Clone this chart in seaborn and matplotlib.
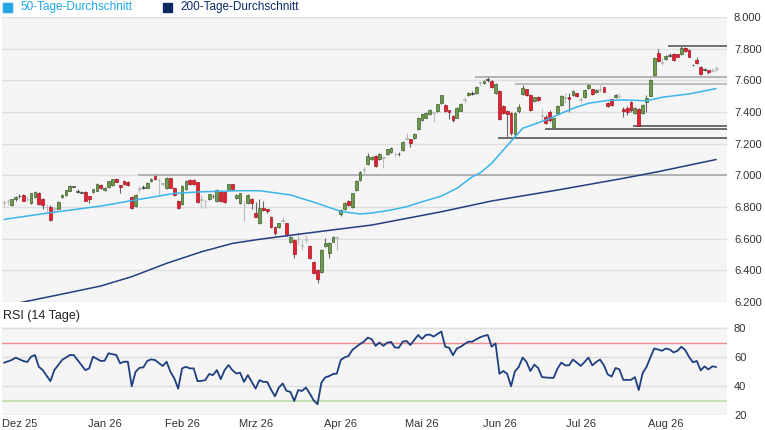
import matplotlib
matplotlib.use("Agg")
import matplotlib.pyplot as plt
from matplotlib.patches import Rectangle
import seaborn as sns
import numpy as np

sns.set_style("white")
plt.rcParams['font.family'] = ['Liberation Sans', 'DejaVu Sans']

# Kerzen (Index = Handelstag, 24.11.2025 bis 20.08.2026)
opens = [6830, 6838, 6812, 6853, 6869, 6873, 6850, 6827, 6861, 6886,
         6848, 6800, 6802, 6790, 6789, 6861, 6873, 6903, 6930, 6900,
         6893, 6895, 6869, 6895, 6903, 6941, 6907, 6924, 6940, 6975,
         6937, 6966, 6958, 6865, 6808, 6915, 6925, 6922, 6964, 6998,
         6972, 6950, 6918, 6981, 6922, 6838, 6817, 6913, 6972, 6970,
         6955, 6850, 6840, 6850, 6872, 6838, 6897, 6893, 6913, 6943,
         6855, 6823, 6815, 6827, 6848, 6764, 6697, 6791, 6785, 6739,
         6675, 6671, 6718, 6697, 6581, 6591, 6600, 6560, 6596, 6553,
         6454, 6402, 6391, 6555, 6511, 6581, 6605, 6756, 6785, 6838,
         6802, 6907, 6970, 7036, 7071, 7102, 7122, 7101, 7118, 7135,
         7147, 7135, 7134, 7160, 7230, 7227, 7234, 7290, 7349, 7364,
         7385, 7395, 7408, 7455, 7446, 7412, 7375, 7364, 7408, 7478,
         7507, 7518, 7518, 7585, 7581, 7605, 7598, 7518, 7535, 7438,
         7408, 7396, 7261, 7408, 7514, 7543, 7507, 7471, 7497, 7382,
         7366, 7402, 7303, 7391, 7444, 7490, 7497, 7507, 7518, 7480,
         7492, 7549, 7543, 7525, 7540, 7556, 7455, 7480, 7492, 7500,
         7419, 7427, 7465, 7391, 7419, 7391, 7465, 7503, 7634, 7771,
         7710, 7735, 7755, 7764, 7764, 7764, 7806, 7792, 7697, 7728,
         7686, 7668, 7663, 7660, 7675]
highs = [6845, 6850, 6852, 6870, 6882, 6880, 6870, 6890, 6902, 6895,
         6855, 6822, 6810, 6800, 6835, 6880, 6910, 6936, 6935, 6912,
         6903, 6900, 6872, 6915, 6950, 6945, 6925, 6966, 6980, 6982,
         6940, 6970, 6962, 6870, 6880, 6935, 6940, 6955, 6982, 7003,
         6985, 6960, 6990, 6986, 6928, 6842, 6940, 6970, 6978, 6976,
         6960, 6876, 6845, 6885, 6880, 6912, 6903, 6898, 6948, 6948,
         6880, 6890, 6840, 6880, 6855, 6830, 6850, 6840, 6790, 6745,
         6680, 6702, 6740, 6702, 6618, 6598, 6644, 6591, 6623, 6558,
         6460, 6408, 6533, 6602, 6580, 6614, 6614, 6790, 6832, 6845,
         6890, 6970, 7025, 7050, 7143, 7125, 7128, 7140, 7125, 7168,
         7180, 7150, 7150, 7218, 7269, 7232, 7265, 7368, 7390, 7400,
         7418, 7408, 7452, 7510, 7450, 7415, 7380, 7430, 7455, 7497,
         7525, 7530, 7565, 7598, 7600, 7618, 7602, 7582, 7540, 7445,
         7412, 7400, 7400, 7450, 7570, 7548, 7512, 7497, 7500, 7425,
         7380, 7410, 7365, 7442, 7505, 7518, 7518, 7540, 7522, 7497,
         7543, 7576, 7548, 7545, 7570, 7560, 7462, 7485, 7512, 7520,
         7430, 7440, 7470, 7432, 7425, 7450, 7510, 7610, 7750, 7795,
         7740, 7760, 7770, 7770, 7768, 7818, 7812, 7795, 7705, 7745,
         7690, 7680, 7668, 7680, 7690]
lows = [6800, 6810, 6808, 6840, 6858, 6835, 6840, 6820, 6855, 6815,
        6790, 6765, 6712, 6770, 6785, 6855, 6870, 6900, 6926, 6886,
        6886, 6836, 6823, 6890, 6900, 6915, 6903, 6920, 6935, 6955,
        6886, 6940, 6932, 6785, 6800, 6897, 6915, 6918, 6960, 6972,
        6876, 6930, 6912, 6918, 6870, 6790, 6812, 6908, 6938, 6940,
        6828, 6791, 6791, 6845, 6855, 6833, 6833, 6828, 6908, 6905,
        6850, 6818, 6712, 6820, 6790, 6735, 6690, 6775, 6765, 6665,
        6625, 6665, 6700, 6618, 6575, 6475, 6560, 6528, 6570, 6470,
        6375, 6317, 6385, 6549, 6475, 6576, 6528, 6745, 6780, 6805,
        6795, 6900, 6965, 7010, 7065, 7095, 7055, 7095, 7045, 7130,
        7142, 7118, 7125, 7155, 7223, 7180, 7230, 7285, 7345, 7360,
        7380, 7340, 7400, 7450, 7400, 7354, 7340, 7360, 7405, 7460,
        7500, 7510, 7515, 7565, 7575, 7590, 7550, 7512, 7350, 7385,
        7233, 7255, 7255, 7395, 7510, 7500, 7405, 7465, 7470, 7350,
        7325, 7340, 7292, 7385, 7440, 7455, 7402, 7500, 7495, 7455,
        7488, 7545, 7510, 7520, 7525, 7525, 7430, 7440, 7488, 7485,
        7370, 7380, 7400, 7385, 7310, 7385, 7400, 7500, 7630, 7715,
        7700, 7730, 7750, 7725, 7745, 7760, 7780, 7745, 7692, 7705,
        7635, 7660, 7640, 7650, 7660]
closes = [6835, 6842, 6848, 6861, 6870, 6840, 6855, 6886, 6897, 6819,
          6812, 6804, 6718, 6795, 6831, 6875, 6907, 6932, 6932, 6898,
          6896, 6840, 6848, 6911, 6945, 6920, 6920, 6962, 6975, 6960,
          6928, 6946, 6938, 6791, 6876, 6918, 6928, 6949, 6977, 6977,
          6970, 6948, 6981, 6922, 6876, 6796, 6935, 6964, 6943, 6947,
          6833, 6848, 6838, 6880, 6870, 6907, 6838, 6833, 6943, 6913,
          6876, 6886, 6812, 6875, 6827, 6739, 6791, 6780, 6772, 6671,
          6633, 6697, 6716, 6623, 6612, 6503, 6598, 6558, 6594, 6475,
          6381, 6343, 6528, 6575, 6574, 6608, 6610, 6781, 6827, 6812,
          6886, 6966, 7019, 7038, 7122, 7115, 7059, 7135, 7114, 7164,
          7175, 7136, 7135, 7212, 7235, 7202, 7259, 7364, 7385, 7396,
          7412, 7398, 7448, 7505, 7408, 7402, 7349, 7427, 7448, 7480,
          7522, 7520, 7560, 7587, 7596, 7607, 7556, 7577, 7354, 7391,
          7387, 7265, 7396, 7429, 7549, 7507, 7412, 7492, 7476, 7378,
          7332, 7349, 7360, 7438, 7501, 7494, 7480, 7535, 7501, 7481,
          7539, 7570, 7514, 7540, 7545, 7528, 7438, 7444, 7507, 7505,
          7406, 7398, 7412, 7427, 7313, 7444, 7490, 7602, 7743, 7722,
          7715, 7756, 7758, 7728, 7749, 7802, 7785, 7749, 7699, 7710,
          7638, 7670, 7655, 7665, 7677]

# gleitende Durchschnitte (Index, Wert)
ma50_idx = [0, 12, 25, 33, 44, 51, 61, 66, 74, 81, 87, 92, 95, 100, 104,
            108, 113, 117, 121, 123, 126, 129, 134, 140, 143, 147, 151, 156,
            160, 166, 170, 177, 184]
ma50_val = [6722, 6764, 6806, 6840, 6886, 6896, 6903, 6903, 6876, 6823, 6772,
            6756, 6762, 6781, 6802, 6833, 6869, 6918, 6991, 7015, 7076, 7160,
            7297, 7349, 7381, 7423, 7455, 7473, 7476, 7471, 7493, 7514, 7548]
ma200_idx = [4, 16, 25, 33, 42, 51, 59, 66, 78, 95, 113, 126, 143, 160, 169,
             184]
ma200_val = [6195, 6255, 6301, 6360, 6444, 6517, 6570, 6596, 6634, 6686, 6770,
             6838, 6907, 6981, 7023, 7100]

# Unterstützungen / Widerstände
level_val = [7817, 7620, 7575, 7311, 7292, 7238, 7000]
level_start = [171.6, 121.7, 132.0, 162.5, 139.8, 127.6, 34.6]
level_color = ['#5a5a5a', '#a8a8a8', '#b4b4b4', '#555555', '#555555', '#555555', '#a8a8a8']

# RSI (14 Tage)
rsi_idx = [0, 2, 3, 5, 6, 7, 8, 9, 10, 12, 13, 15, 17, 18, 19, 21, 22, 23, 25,
           26, 27, 29, 30, 31, 32, 33, 34, 35, 36, 37, 38, 39, 41, 42, 43, 44,
           45, 46, 47, 48, 49, 50, 51, 52, 53, 54, 55, 56, 57, 58, 59, 60, 61,
           62, 63, 64, 65, 66, 67, 68, 69, 70, 71, 72, 73, 74, 75, 76, 77, 78,
           79, 80, 81, 82, 83, 84, 85, 86, 87, 88, 89, 90, 91, 92, 93, 94, 95,
           96, 97, 98, 99, 100, 101, 102, 103, 104, 105, 107, 108, 109, 110,
           111, 112, 113, 114, 115, 116, 117, 118, 119, 120, 121, 122, 123,
           124, 125, 126, 127, 128, 129, 130, 131, 132, 133, 134, 135, 136,
           137, 138, 139, 141, 142, 143, 144, 145, 146, 147, 148, 149, 150,
           151, 152, 153, 154, 155, 156, 157, 158, 159, 160, 161, 162, 163,
           164, 165, 166, 167, 168, 169, 170, 171, 172, 173, 174, 175, 176,
           177, 178, 179, 180, 181, 182, 183, 184]
rsi_val = [56.2, 58.1, 59.7, 57.4, 56.7, 60.4, 61.5, 53.4, 51.1, 43.5, 51.1,
           58.1, 61.5, 61.5, 58.1, 51.1, 52.3, 60.4, 57.4, 57.6, 62.7, 61.5,
           55.8, 56.9, 56.9, 40.0, 50.0, 52.7, 53.0, 57.4, 58.5, 58.1, 53.9,
           56.9, 50.0, 45.4, 38.4, 52.3, 53.4, 52.3, 52.3, 43.5, 43.7, 44.2,
           48.4, 47.7, 51.1, 44.9, 51.1, 54.6, 51.1, 48.8, 49.3, 43.0, 47.7,
           43.0, 38.4, 44.2, 43.0, 43.0, 37.7, 33.1, 39.1, 41.9, 36.8, 36.1,
           29.9, 37.3, 36.8, 39.1, 35.0, 30.3, 27.6, 42.4, 46.1, 47.0, 48.4,
           48.8, 58.1, 59.9, 60.8, 65.0, 67.1, 69.1, 70.8, 73.5, 72.4, 67.8,
           70.1, 67.8, 70.0, 70.5, 66.7, 66.5, 70.7, 71.2, 68.4, 75.3, 72.6,
           75.3, 75.6, 74.2, 76.0, 77.7, 67.2, 66.5, 61.4, 66.0, 67.2, 69.1,
           70.7, 70.7, 72.3, 73.7, 74.7, 75.3, 67.2, 69.5, 48.6, 50.5, 48.6,
           40.0, 50.2, 53.3, 59.8, 56.7, 50.5, 54.9, 52.6, 46.3, 45.8, 45.8,
           52.1, 56.3, 54.4, 54.4, 58.4, 56.3, 54.0, 56.7, 59.8, 54.4, 56.7,
           58.4, 54.4, 48.1, 46.7, 52.6, 51.6, 44.4, 44.4, 44.4, 46.3, 37.4,
           49.1, 53.3, 59.8, 66.0, 65.3, 64.4, 66.0, 65.3, 63.3, 64.4, 67.2,
           64.9, 60.2, 56.5, 57.4, 50.9, 53.7, 51.6, 53.7, 53.3]

month_idx = [4, 26, 46, 65, 87, 108, 128, 149, 171]
month_lbl = ['Dez 25', 'Jan 26', 'Feb 26', 'Mrz 26', 'Apr 26', 'Mai 26',
             'Jun 26', 'Jul 26', 'Aug 26']
price_ticks = [6200, 6400, 6600, 6800, 7000, 7200, 7400, 7600, 7800, 8000]
rsi_ticks = [20, 40, 60, 80]

W, H = 765, 430
fig = plt.figure(figsize=(W / 100, H / 100), dpi=100)
ax = fig.add_axes([2 / W, 1 - 302 / H, 725 / W, 285 / H])
ax_rsi = fig.add_axes([2 / W, 1 - 415.3 / H, 725 / W, 88 / H])

x0, x1 = -0.52, 186.8
bg = '#f5f5f5'
grid = '#dedede'
txt = '#333333'

for a in (ax, ax_rsi):
    a.set_facecolor(bg)
    for s in a.spines.values():
        s.set_visible(False)
    a.set_xlim(x0, x1)
    a.yaxis.tick_right()
    a.tick_params(axis='y', length=0, pad=5, labelsize=8, labelcolor=txt)
    a.tick_params(axis='x', length=0)

# Hauptchart
ax.set_ylim(6200, 8000)
for v in price_ticks:
    ax.axhline(v, color=grid, lw=1.0, zorder=0)
ax.set_yticks(price_ticks)
ax.set_yticklabels([f"{v:,}".replace(',', '.') for v in price_ticks])
ax.set_xticks([])

for lv, ls, lc in zip(level_val, level_start, level_color):
    ax.hlines(lv, ls, x1, color=lc, lw=1.2, zorder=1)

o = np.array(opens, float)
h = np.array(highs, float)
l = np.array(lows, float)
c = np.array(closes, float)
idx = np.arange(len(c))
body = np.abs(c - o)
small = body < 6
grey = small & ((h - l) >= 30)

wick_col = np.where(grey, '#bdbdbd', '#666666')
ax.vlines(idx, l, h, colors=wick_col, lw=0.8, zorder=2)

face = np.where(c >= o, '#6e9b4d', '#e8202f')
edge = np.where(c >= o, '#3b5f27', '#9e1520')
face = np.where(grey, '#cfcfcf', np.where(small, '#444444', face))
edge = np.where(grey, '#b5b5b5', np.where(small, '#444444', edge))
bot = np.minimum(o, c)
hgt = np.maximum(body, 4)
ax.bar(idx, hgt, bottom=bot - np.where(small, 2, 0), width=0.72,
       color=face, edgecolor=edge, lw=0.5, zorder=3)

sns.lineplot(x=ma200_idx, y=ma200_val, ax=ax, color='#233f80', lw=1.1,
             zorder=4, legend=False)
sns.lineplot(x=ma50_idx, y=ma50_val, ax=ax, color='#38b5ec', lw=1.1,
             zorder=4, legend=False)
ax.set_xlabel('')
ax.set_ylabel('')
ax.set_xlim(x0, x1)
ax.set_ylim(6200, 8000)

# RSI
ax_rsi.set_ylim(20, 80.6)
for v in rsi_ticks:
    ax_rsi.axhline(v, color=grid, lw=1.0, zorder=0)
ax_rsi.axhline(70, color='#f08a8a', lw=1.0, zorder=1)
ax_rsi.axhline(30, color='#bcdca5', lw=1.2, zorder=1)
sns.lineplot(x=rsi_idx, y=rsi_val, ax=ax_rsi, color='#1e3f7f', lw=1.3,
             zorder=3, legend=False)
ax_rsi.set_xlabel('')
ax_rsi.set_ylabel('')
ax_rsi.set_xlim(x0, x1)
ax_rsi.set_yticks(rsi_ticks)
ax_rsi.set_yticklabels([str(v) for v in rsi_ticks])
ax_rsi.set_xticks(month_idx)
ax_rsi.set_xticklabels(month_lbl)
ax_rsi.tick_params(axis='x', pad=3, labelsize=8, labelcolor=txt)

# Legende und Titel
fig.patches.append(Rectangle((3 / W, 1 - 11.7 / H), 9 / W, 9 / H,
                             transform=fig.transFigure, color='#1ea8e6'))
fig.text(20 / W, 1 - 7.2 / H, '50-Tage-Durchschnitt', color='#1ea8e6',
         fontsize=8.5, va='center', ha='left')
fig.patches.append(Rectangle((163 / W, 1 - 11.7 / H), 9 / W, 9 / H,
                             transform=fig.transFigure, color='#0c2a66'))
fig.text(180 / W, 1 - 7.2 / H, '200-Tage-Durchschnitt', color='#0c2a66',
         fontsize=8.5, va='center', ha='left')
fig.text(3 / W, 1 - 316.5 / H, 'RSI (14 Tage)', color='#222222',
         fontsize=9, va='center', ha='left')

fig.savefig('out.png', dpi=100, facecolor='white')
